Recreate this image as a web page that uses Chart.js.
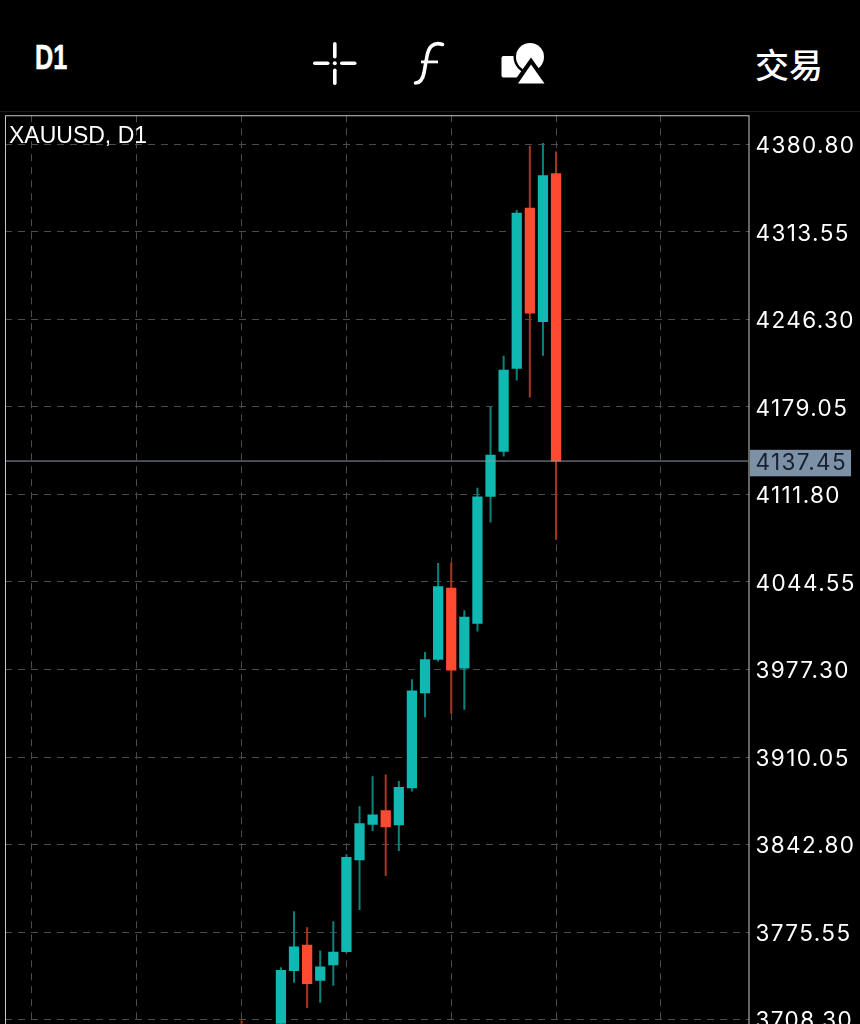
<!DOCTYPE html>
<html>
<head>
<meta charset="utf-8">
<title>XAUUSD, D1</title>
<script src="https://cdn.jsdelivr.net/npm/chart.js@4"></script>
<style>
  html, body { margin: 0; padding: 0; background: #000; }
  body { width: 860px; height: 1024px; overflow: hidden; position: relative; color: #fff; }
  #priceChart { position: absolute; left: 0; top: 97px; }
  #rule { position: absolute; left: 0; top: 111px; width: 860px; height: 1px; background: #1c1c1c; }
  .head { position: absolute; white-space: nowrap; }
  #period { left: 35px; top: 37px; font: bold 35px/40px "Liberation Sans", sans-serif; -webkit-text-stroke: 0.6px #fff; transform: scaleX(0.72); transform-origin: left top; }
  #trade { left: 755px; top: 41px; font: 500 34px/46px "Noto Sans CJK SC", sans-serif; }
  #symbol { left: 9px; top: 121px; font: 23px/28px "Liberation Sans", sans-serif; color: #fff; }
  svg.head { left: 300px; top: 30px; }
</style>
</head>
<body>
<canvas id="priceChart" width="860" height="945"></canvas>
<div id="rule"></div>
<div class="head" id="period">D1</div>
<svg class="head" width="260" height="70" viewBox="0 0 260 70" fill="#fff">
  <rect x="13" y="31.5" width="16.5" height="3.6" rx="1.800"/>
  <rect x="40" y="31.5" width="16.5" height="3.6" rx="1.800"/>
  <rect x="33" y="12" width="3.6" height="16.5" rx="1.800"/>
  <rect x="33" y="38.500" width="3.6" height="16.5" rx="1.800"/>
  <circle cx="34.800" cy="33.300" r="2"/>
  <path d="M142.500 14.500C133 11 128.500 18 127 26L124 43C122.500 50 120 53 115.500 53" fill="none" stroke="#fff" stroke-width="3.6" stroke-linecap="round"/>
  <rect x="121" y="30.500" width="17" height="2.800"/>
  <rect x="201.500" y="26" width="24" height="21.500" rx="2"/>
  <circle cx="230" cy="27" r="16.500" fill="#000"/>
  <circle cx="230" cy="27" r="14"/>
  <path d="M231 27.500L252 57H210z" fill="#000"/>
  <path d="M231 34.500L244.500 53.500H218z"/>
</svg>
<div class="head" id="trade">交易</div>
<div class="head" id="symbol">XAUUSD, D1</div>
<script>
// Candles, oldest first. The first ones run below the visible range.
const indexes = [0, 3, 4, 5, 6, 7, 8, 9, 10, 11, 12, 13, 14, 15, 16, 17, 18, 19, 20, 21, 22, 23, 24];
const opens = [3695.0, 3650.0, 3746.0, 3765.7, 3738.5, 3750.3, 3760.6, 3831.0, 3858.4, 3868.9, 3857.9, 3886.4, 3959.4, 3985.0, 4039.8, 3978.3, 4012.7, 4110.3, 4144.8, 4208.6, 4331.8, 4244.5, 4358.3];
const highs = [3707.5, 3748.3, 3791.3, 3779.0, 3761.3, 3783.6, 3835.1, 3872.0, 3895.1, 3896.4, 3891.4, 3969.6, 3990.6, 4058.8, 4059.3, 4022.6, 4116.6, 4179.2, 4218.1, 4330.1, 4379.5, 4381.6, 4374.9];
const lows = [3670.0, 3645.0, 3737.0, 3717.5, 3721.6, 3734.7, 3760.0, 3792.8, 3853.6, 3819.0, 3838.2, 3883.8, 3940.9, 3983.7, 3943.5, 3946.6, 4006.7, 4090.5, 4141.2, 4199.6, 4186.6, 4218.6, 4077.2];
const closes = [3680.0, 3746.2, 3764.2, 3736.0, 3749.0, 3760.3, 3833.0, 3858.9, 3865.6, 3856.4, 3886.8, 3960.9, 3985.0, 4041.1, 3976.8, 4017.5, 4110.0, 4142.0, 4207.3, 4328.0, 4251.1, 4356.7, 4137.45];

const priceTicks = [4380.80, 4313.55, 4246.30, 4179.05, 4137.45, 4111.80, 4044.55, 3977.30, 3910.05, 3842.80, 3775.55, 3708.30];
const timeTicks = [-16, -8, 0, 8, 16, 24, 32];
const lastPrice = 4137.45;

const TEAL = '#0fb8b0';
const RED = '#ff4a32';
const TEAL_WICK = '#0d7f79';
const RED_WICK = '#a8331f';
const GRID = '#4c4c4c';
const LABEL_SPACING = '1.4px';

const isUp = i => closes[i] >= opens[i];
const wickData = indexes.map((x, i) => ({ x, y: [lows[i], highs[i]] }));
const bodyData = indexes.map((x, i) => ({ x, y: [opens[i], closes[i]] }));

const frame = {
  id: 'frame',
  beforeLayout(chart) { chart.ctx.letterSpacing = LABEL_SPACING; },
  afterUpdate(chart) {
    // price labels sit 2px under their grid line
    chart.scales.y.getLabelItems(chart.chartArea).forEach(item => { item.options.translation[1] += 2; });
  },
  beforeDraw(chart) { chart.ctx.letterSpacing = LABEL_SPACING; },
  afterDraw(chart) {
    const { ctx, chartArea: a } = chart;
    ctx.save();
    ctx.strokeStyle = '#c8c8c8';
    ctx.lineWidth = 1;
    ctx.strokeRect(a.left + 0.5, a.top + 0.5, a.right - a.left, a.bottom - a.top + 20);
    ctx.restore();
  }
};

const chart = new Chart(document.getElementById('priceChart'), {
  data: {
    datasets: [
      {
        type: 'bar',
        label: 'Wick',
        data: wickData,
        backgroundColor: indexes.map((_, i) => isUp(i) ? TEAL_WICK : RED_WICK),
        barThickness: 1.4,
        grouped: false,
        order: 2
      },
      {
        type: 'bar',
        label: 'Body',
        data: bodyData,
        backgroundColor: indexes.map((_, i) => isUp(i) ? TEAL : RED),
        barThickness: 9.6,
        grouped: false,
        order: 1
      },
      {
        type: 'line',
        label: 'Last price',
        data: [{ x: -18.06, y: lastPrice }, { x: 38.69, y: lastPrice }],
        borderColor: '#8d97a8',
        borderWidth: 1,
        pointRadius: 0,
        order: 0
      }
    ]
  },
  options: {
    responsive: false,
    animation: false,
    layout: { padding: { left: 5, top: 0, right: 0, bottom: 0 } },
    plugins: { legend: { display: false }, tooltip: { enabled: false } },
    parsing: { xAxisKey: 'x', yAxisKey: 'y' },
    scales: {
      x: {
        type: 'linear',
        offset: false,
        min: -18.06,
        max: 38.69,
        afterBuildTicks(scale) { scale.ticks = timeTicks.map(value => ({ value })); },
        ticks: { display: false },
        grid: { color: GRID, lineWidth: 1, drawTicks: false, offset: false },
        border: { display: false, dash: [7, 6] }
      },
      y: {
        type: 'linear',
        position: 'right',
        min: 3705.2,
        max: 4403.09,
        afterBuildTicks(scale) { scale.ticks = priceTicks.slice().reverse().map(value => ({ value })); },
        afterFit(scale) { scale.width = 111.5; },
        ticks: {
          autoSkip: false,
          padding: 7,
          font: { family: 'Inter, "Liberation Sans", sans-serif', size: 22.5, lineHeight: 1 },
          color: ctx => ctx.tick.value === lastPrice ? '#152030' : '#ffffff',
          showLabelBackdrop: ctx => ctx.tick.value === lastPrice,
          backdropColor: '#7d91a6',
          backdropPadding: { left: 5.5, right: 4, top: 2, bottom: 2 },
          callback: value => value.toFixed(2)
        },
        grid: {
          color: ctx => ctx.tick && ctx.tick.value === lastPrice ? 'transparent' : GRID,
          lineWidth: 1,
          drawTicks: false
        },
        border: { display: false, dash: [7, 6] }
      }
    }
  },
  plugins: [frame]
});
</script>
</body>
</html>
